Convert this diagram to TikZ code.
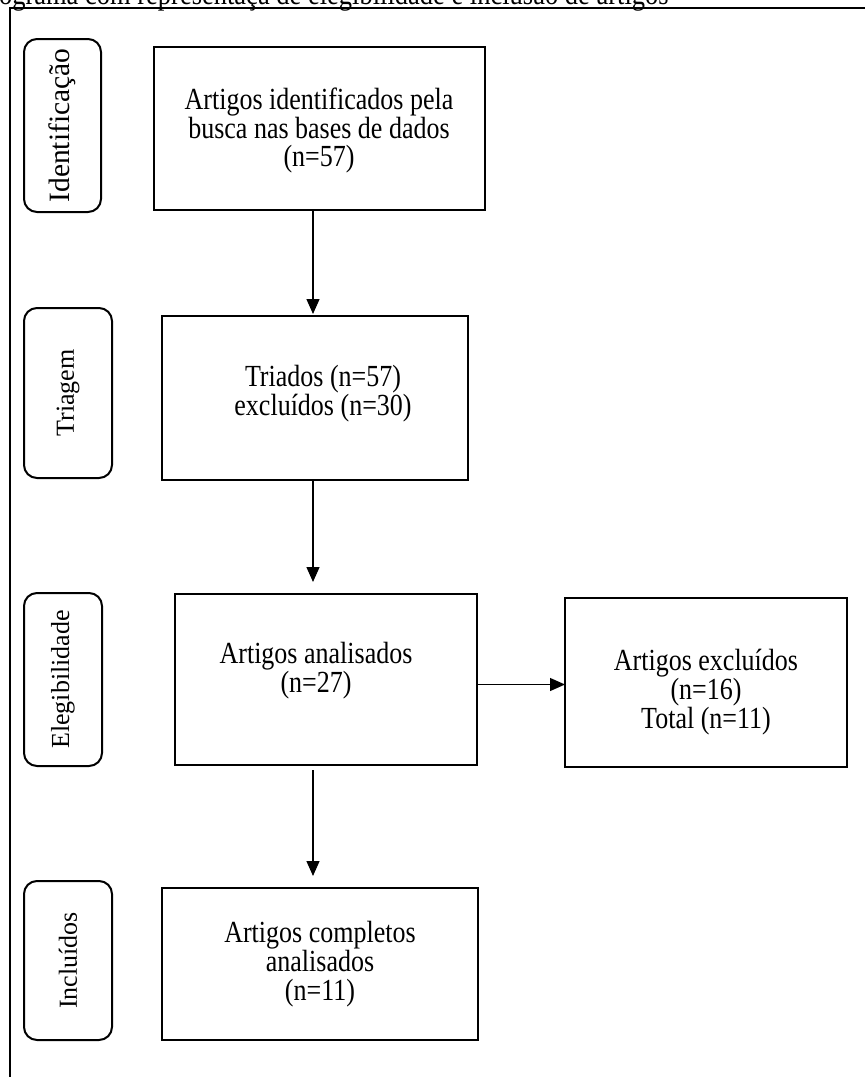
\documentclass[tikz,border=0pt]{standalone}
\usepackage{fontspec}
\usepackage{graphicx}
\setmainfont{Liberation Serif}
\usetikzlibrary{arrows.meta}
\newcommand{\stretchtxt}[1]{\scalebox{1}[1.18]{\begin{tabular}{@{}c@{}}#1\end{tabular}}}
\begin{document}
\begin{tikzpicture}[x=1pt,y=-1pt,
  every node/.style={inner sep=0pt, outer sep=0pt},
  txt/.style={font=\fontsize{26}{21.5}\selectfont, align=center},
  box/.style={draw, line width=2pt, rectangle},
  lab/.style={draw, line width=2pt, rounded corners=13pt, rotate=90, font=\fontsize{26}{28}\selectfont},
  arr/.style={line width=1.3pt, -{Triangle[length=15pt,width=13pt]}}]
\useasboundingbox (0,0) rectangle (865,1077);
% title (cut at top)
\node[anchor=base west, font=\fontsize{26.5}{28}\selectfont] (title) at (-1,4) {\scalebox{1}[1.18]{ograma com representaçã de elegibilidade e inclusão de artigos}};
% frame
\draw[line width=2pt] (9.5,1090) -- (9.5,8) -- (880,8);
% stage labels
\node[lab, minimum width=173pt, minimum height=77pt, font=\fontsize{29.5}{30}\selectfont] (l1) at (62.5,125.5) {Identificação};
\node[lab, minimum width=170pt, minimum height=88pt] (l2) at (68,393) {Triagem};
\node[lab, minimum width=173pt, minimum height=78pt] (l3) at (63,679.5) {Elegibilidade};
\node[lab, minimum width=159pt, minimum height=88pt] (l4) at (68,960.5) {Incluídos};
% boxes
\node[box, minimum width=331pt, minimum height=163pt] (b1) at (319.5,128.5) {};
\node[box, minimum width=306pt, minimum height=164pt] (b2) at (315,398) {};
\node[box, minimum width=302pt, minimum height=171pt] (b3) at (326,679.5) {};
\node[box, minimum width=282pt, minimum height=169pt] (b4) at (706,682.5) {};
\node[box, minimum width=316pt, minimum height=152pt] (b5) at (320,964) {};
% texts
\node[txt] (t1) at (319,131) {\stretchtxt{Artigos identificados pela\\busca nas bases de dados\\(n=57)}};
\node[txt] (t2) at (323,394) {\stretchtxt{Triados (n=57)\\excluídos (n=30)}};
\node[txt] (t3) at (316,671) {\stretchtxt{Artigos analisados\\(n=27)}};
\node[txt] (t4) at (706,693) {\stretchtxt{Artigos excluídos\\(n=16)\\Total (n=11)}};
\node[txt] (t5) at (320,965) {\stretchtxt{Artigos completos\\analisados\\(n=11)}};
% connectors
\coordinate (axis) at (313,0);
\draw[arr, shorten >=2pt] (b1.south -| axis) -- (b2.north -| axis);
\draw[arr, shorten >=12pt] (b2.south -| axis) -- (b3.north -| axis);
\draw[arr] ([yshift=-5pt]b3.east) coordinate (a3s) -- (a3s -| b4.west);
\draw[arr, shorten >=12pt, shorten <=5pt] (b3.south -| axis) -- (b5.north -| axis);
\end{tikzpicture}
\end{document}
